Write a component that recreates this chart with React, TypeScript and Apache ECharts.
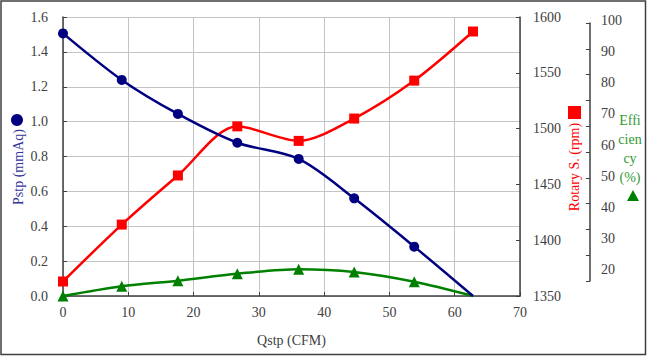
import React, { useEffect, useRef } from "react";
import * as echarts from "echarts";

const flow = [0, 9.0, 17.6, 26.7, 36.1, 44.6, 53.8, 62.8];
const pressure = [1.506, 1.239, 1.044, 0.879, 0.786, 0.56, 0.283, 0];
const speed = [1363, 1414, 1458, 1502, 1489, 1509, 1543, 1587];
const efficiency = [0, 3.5, 5.5, 8.0, 9.6, 8.6, 5.1, 0];

const xTitle = "Qstp (CFM)";
const pTitle = "Pstp (mmAq)";
const sTitle = "Rotary S. (rpm)";
const eTitleLines = ["Effi", "cien", "cy", "(%)"];

const FONT = "Liberation Serif";
const LABEL = "#404040";
const AXIS = "#404040";
const GRIDC = "#c4c4c4";

export default function App() {
  const ref = useRef<HTMLDivElement>(null);
  useEffect(() => {
    if (!ref.current) return;
    const chart = echarts.init(ref.current, null, { renderer: "svg" });
    const pairs = (ys: number[], hideLast: boolean) =>
      flow.map((x, i) =>
        hideLast && i === flow.length - 1
          ? { value: [x, ys[i]], symbol: "none" }
          : [x, ys[i]]
      );
    const rich = { s: { color: LABEL, fontFamily: FONT, fontSize: 14 } };
    const labelStyle = { color: LABEL, fontFamily: FONT, fontSize: 14, rich };
    const fmt = (f: (v: number) => string) => (v: number) => `{s|${f(v)}}`;
    chart.setOption({
      animation: false,
      backgroundColor: "#ffffff",
      textStyle: { fontFamily: FONT },
      grid: [
        { left: 63, right: 127, top: 17, bottom: 60 },
        { left: 590, width: 10, top: 23, height: 258 },
        { left: 590, width: 1, top: 20.7, height: 248.6 },
      ],
      xAxis: [
        {
          type: "value",
          gridIndex: 0,
          min: 0,
          max: 70,
          interval: 10,
          axisLine: { show: true, lineStyle: { color: AXIS, width: 1.5 } },
          axisTick: { show: true, inside: true, length: 4, lineStyle: { color: AXIS } },
          axisLabel: { ...labelStyle, margin: 9, formatter: fmt((v) => String(v)) },
          splitLine: { show: true, lineStyle: { color: GRIDC, width: 1 } },
        },
        { type: "value", gridIndex: 1, show: false, min: 0, max: 1 },
        { type: "value", gridIndex: 2, show: false, min: 0, max: 1 },
      ],
      yAxis: [
        {
          type: "value",
          gridIndex: 0,
          position: "left",
          min: 0,
          max: 1.6,
          interval: 0.2,
          axisLine: { show: true, lineStyle: { color: AXIS, width: 1.5 } },
          axisTick: { show: true, inside: true, length: 4, lineStyle: { color: AXIS } },
          axisLabel: { ...labelStyle, margin: 15, formatter: fmt((v) => v.toFixed(1)) },
          splitLine: { show: true, lineStyle: { color: GRIDC, width: 1 } },
        },
        {
          type: "value",
          gridIndex: 0,
          position: "right",
          min: 1350,
          max: 1600,
          interval: 50,
          axisLine: { show: true, lineStyle: { color: AXIS, width: 1.5 } },
          axisTick: { show: true, inside: true, length: 4, lineStyle: { color: AXIS } },
          axisLabel: { ...labelStyle, margin: 13, formatter: fmt((v) => String(v)) },
          splitLine: { show: false },
        },
        {
          type: "value",
          gridIndex: 0,
          show: false,
          min: 0,
          max: 100,
        },
        {
          type: "value",
          gridIndex: 1,
          position: "left",
          min: 0,
          max: 10,
          interval: 1,
          axisLine: { show: true, lineStyle: { color: AXIS, width: 1.5 } },
          axisTick: { show: true, inside: false, length: 4, lineStyle: { color: AXIS } },
          axisLabel: { show: false },
          splitLine: { show: false },
        },
        {
          type: "value",
          gridIndex: 2,
          position: "right",
          min: 20,
          max: 100,
          interval: 10,
          axisLine: { show: false },
          axisTick: { show: false },
          axisLabel: { ...labelStyle, margin: 10, formatter: fmt((v) => String(v)) },
          splitLine: { show: false },
        },
      ],
      series: [
        {
          type: "line",
          xAxisIndex: 0,
          yAxisIndex: 0,
          data: pairs(pressure, true),
          smooth: 0.3,
          symbol: "circle",
          symbolSize: 10,
          lineStyle: { color: "#000080", width: 2.5 },
          itemStyle: { color: "#000080" },
          z: 4,
        },
        {
          type: "line",
          xAxisIndex: 0,
          yAxisIndex: 1,
          data: pairs(speed, false),
          smooth: 0.3,
          symbol: "rect",
          symbolSize: 10,
          lineStyle: { color: "#ff0000", width: 2.5 },
          itemStyle: { color: "#ff0000" },
          z: 3,
        },
        {
          type: "line",
          xAxisIndex: 0,
          yAxisIndex: 2,
          data: pairs(efficiency, true),
          smooth: 0.3,
          symbol: "triangle",
          symbolSize: 11,
          lineStyle: { color: "#008000", width: 2.5 },
          itemStyle: { color: "#008000" },
          z: 2,
        },
      ],
      graphic: [
        {
          type: "rect",
          shape: { x: 1, y: 1, width: 644.5, height: 353.5 },
          style: { fill: "none", stroke: "#404040", lineWidth: 1.5 },
          silent: true,
        },
        {
          type: "text",
          x: 291.5,
          y: 340,
          style: {
            text: xTitle,
            fill: LABEL,
            font: `14px ${FONT}`,
            textAlign: "center",
            textVerticalAlign: "middle",
          },
        },
        {
          type: "circle",
          shape: { cx: 17, cy: 120, r: 6 },
          style: { fill: "#000080" },
        },
        {
          type: "text",
          x: 18,
          y: 167,
          rotation: Math.PI / 2,
          style: {
            text: pTitle,
            fill: "#333399",
            font: `14px ${FONT}`,
            textAlign: "center",
            textVerticalAlign: "middle",
          },
        },
        {
          type: "rect",
          shape: { x: 568, y: 106, width: 13, height: 13 },
          style: { fill: "#ff0000" },
        },
        {
          type: "text",
          x: 574,
          y: 167,
          rotation: Math.PI / 2,
          style: {
            text: sTitle,
            fill: "#ff0000",
            font: `14px ${FONT}`,
            textAlign: "center",
            textVerticalAlign: "middle",
          },
        },
        ...eTitleLines.map((t, i) => ({
          type: "text",
          x: 630,
          y: 120 + i * 19,
          style: {
            text: t,
            fill: "#339933",
            font: `14px ${FONT}`,
            textAlign: "center",
            textVerticalAlign: "middle",
          },
        })),
        {
          type: "polygon",
          shape: { points: [[633, 190], [639, 201], [627, 201]] },
          style: { fill: "#008000" },
        },
      ],
    });
    return () => chart.dispose();
  }, []);
  return (
    <div
      ref={ref}
      style={{ position: "fixed", left: 0, top: 0, width: 647, height: 356, background: "#fff" }}
    />
  );
}
